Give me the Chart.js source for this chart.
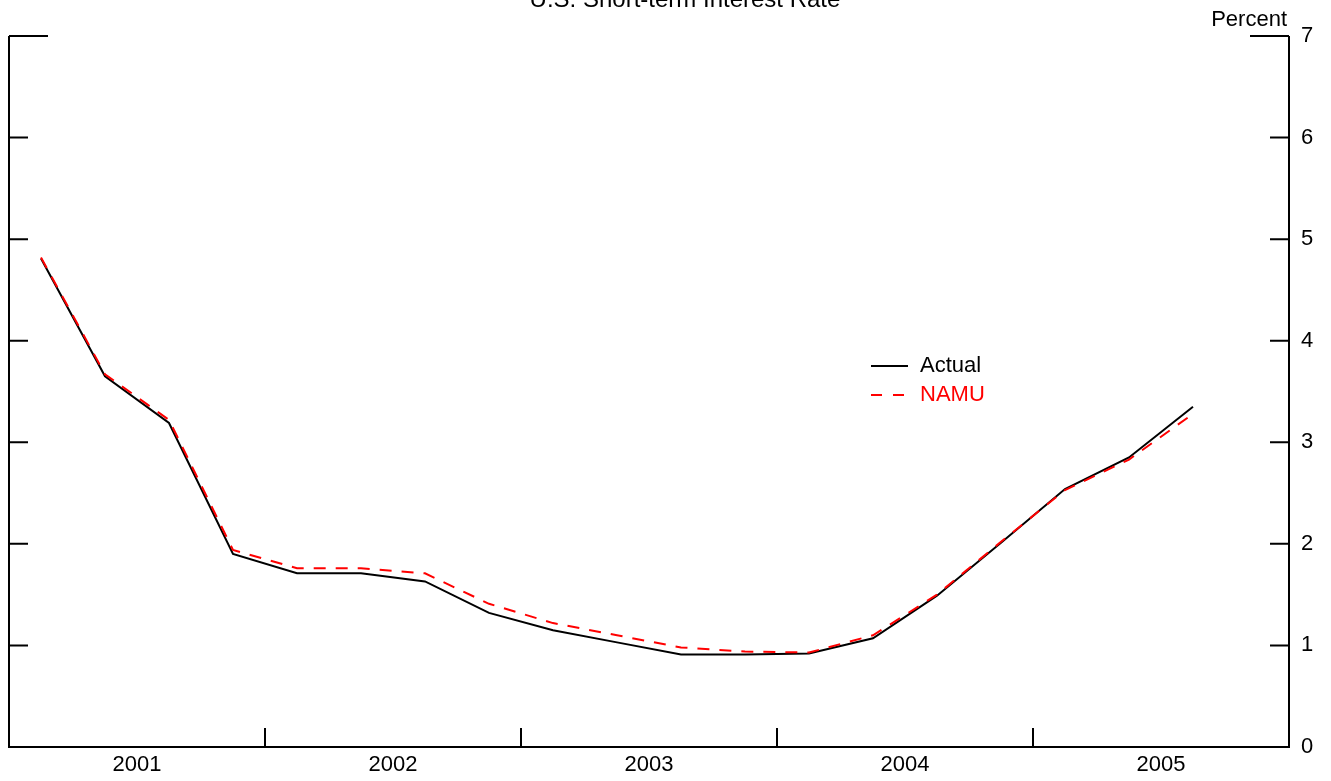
<!DOCTYPE html>
<html>
<head>
<meta charset="utf-8">
<script src="https://cdn.jsdelivr.net/npm/chart.js@4"></script>
<style>
  html, body { margin: 0; padding: 0; background: #fff; }
  #wrap { width: 1331px; height: 781px; position: relative; }
</style>
</head>
<body>
<div id="wrap"><canvas id="grafica"></canvas></div>
<script>
// Datos trimestrales (2001Q1 - 2005Q3)
const trimestres = ["2001Q1","2001Q2","2001Q3","2001Q4","2002Q1","2002Q2","2002Q3","2002Q4",
  "2003Q1","2003Q2","2003Q3","2003Q4","2004Q1","2004Q2","2004Q3","2004Q4","2005Q1","2005Q2","2005Q3"];
const actual = [4.81, 3.65, 3.19, 1.90, 1.71, 1.71, 1.63, 1.32, 1.15, 1.03, 0.91, 0.91, 0.92, 1.07, 1.49, 2.01, 2.54, 2.85, 3.35];
const namu   = [4.82, 3.67, 3.22, 1.94, 1.76, 1.76, 1.71, 1.41, 1.22, 1.10, 0.98, 0.94, 0.93, 1.10, 1.50, 2.02, 2.53, 2.83, 3.28];
const anios = ["2001", "2002", "2003", "2004", "2005"];
const yTicks = [0, 1, 2, 3, 4, 5, 6, 7];

const FONT = '"Liberation Sans", Arial, sans-serif';

// x = indice del trimestre (centro del trimestre)
const puntos = (serie) => serie.map((v, i) => ({ x: i + 0.5, y: v }));

// Marco, marcas hacia dentro, titulo y leyenda
const marco = {
  id: "marco",
  afterDraw(chart) {
    const { ctx, chartArea: a, scales } = chart;
    const xs = scales.x, ys = scales.y;
    ctx.save();
    ctx.strokeStyle = "#000";
    ctx.lineWidth = 2;
    ctx.beginPath();
    ctx.moveTo(a.left, a.top); ctx.lineTo(a.left, a.bottom);
    ctx.lineTo(a.right, a.bottom); ctx.lineTo(a.right, a.top);
    yTicks.forEach((v) => {
      const y = ys.getPixelForValue(v);
      const largo = v === 7 ? 39 : 19;
      ctx.moveTo(a.left, y); ctx.lineTo(a.left + largo, y);
      ctx.moveTo(a.right, y); ctx.lineTo(a.right - largo, y);
    });
    anios.slice(1).forEach((_, i) => {
      const x = xs.getPixelForValue((i + 1) * 4);
      ctx.moveTo(x, a.bottom); ctx.lineTo(x, a.bottom - 19);
    });
    ctx.stroke();

    // Titulo (recortado arriba) y unidad
    ctx.fillStyle = "#000";
    ctx.font = "24px " + FONT;
    ctx.textAlign = "center";
    ctx.textBaseline = "alphabetic";
    ctx.fillText("U.S. Short-term Interest Rate", 685, 7);
    ctx.font = "22px " + FONT;
    ctx.textAlign = "right";
    ctx.fillText("Percent", 1287, 26);

    // Leyenda
    ctx.lineWidth = 2;
    ctx.beginPath();
    ctx.moveTo(871, 366); ctx.lineTo(908, 366);
    ctx.stroke();
    ctx.strokeStyle = "#ff0000";
    ctx.setLineDash([11, 11]);
    ctx.beginPath();
    ctx.moveTo(871, 395); ctx.lineTo(908, 395);
    ctx.stroke();
    ctx.setLineDash([]);
    ctx.textAlign = "left";
    ctx.textBaseline = "middle";
    ctx.fillStyle = "#000";
    ctx.fillText("Actual", 920, 366);
    ctx.fillStyle = "#ff0000";
    ctx.fillText("NAMU", 920, 395);
    ctx.restore();
  },
};

new Chart(document.getElementById("grafica"), {
  type: "line",
  data: {
    labels: trimestres,
    datasets: [
      {
        label: "Actual",
        data: puntos(actual),
        borderColor: "#000000",
        borderWidth: 2,
        pointRadius: 0,
        tension: 0,
        order: 1,
      },
      {
        label: "NAMU",
        data: puntos(namu),
        borderColor: "#ff0000",
        borderWidth: 2,
        borderDash: [12, 10],
        pointRadius: 0,
        tension: 0,
        order: 0,
      },
    ],
  },
  options: {
    responsive: true,
    maintainAspectRatio: false,
    animation: false,
    layout: { padding: { left: 9, top: 36, right: 0, bottom: 0 } },
    plugins: { legend: { display: false }, title: { display: false }, tooltip: { enabled: false } },
    scales: {
      x: {
        type: "linear",
        min: 0,
        max: 20,
        grid: { display: false, drawTicks: false },
        border: { display: false },
        afterBuildTicks: (scale) => {
          scale.ticks = anios.map((_, i) => ({ value: i * 4 + 2 }));
        },
        afterFit: (scale) => { scale.height = 34; },
        ticks: {
          autoSkip: false,
          maxRotation: 0,
          padding: 5,
          color: "#000",
          font: { family: FONT, size: 22 },
          callback: (value) => anios[(value - 2) / 4],
        },
      },
      y: {
        position: "right",
        min: 0,
        max: 7,
        grid: { display: false, drawTicks: false },
        border: { display: false },
        afterFit: (scale) => { scale.width = 42; },
        ticks: {
          stepSize: 1,
          padding: 12,
          color: "#000",
          font: { family: FONT, size: 22 },
        },
      },
    },
  },
  plugins: [marco],
});
</script>
</body>
</html>
